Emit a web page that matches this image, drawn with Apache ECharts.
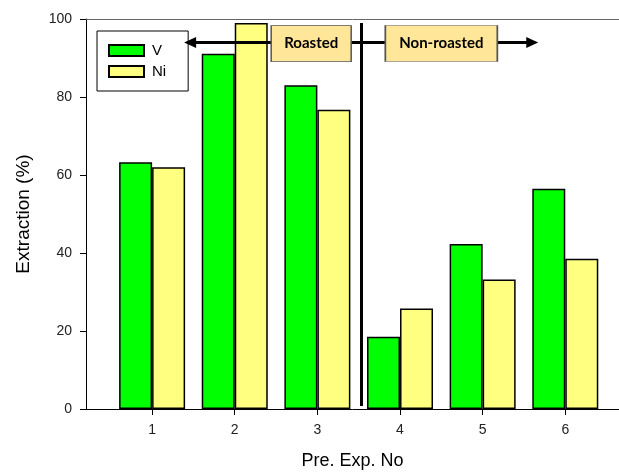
<!DOCTYPE html>
<html>
<head>
<meta charset="utf-8">
<script src="https://cdn.jsdelivr.net/npm/echarts@6/dist/echarts.min.js"></script>
<style>html,body{margin:0;padding:0;background:#fff;}#c{width:619px;height:475px;}</style>
</head>
<body>
<div id="c"></div>
<script>
var categories = [1, 2, 3, 4, 5, 6];
var vValues = [63.3, 91.1, 83.0, 18.5, 42.3, 56.5];
var niValues = [62.0, 99.0, 76.7, 25.8, 33.2, 38.5];
var yTicks = [0, 20, 40, 60, 80, 100];
var seriesNames = ['V', 'Ni'];
var groupLabels = ['Roasted', 'Non-roasted'];

function pairs(vals) { return categories.map(function (c, i) { return [c, vals[i]]; }); }

var chart = echarts.init(document.getElementById('c'), null, {renderer: 'canvas'});
var font = 'Liberation Sans, Arial, sans-serif';
chart.setOption({
  animation: false,
  backgroundColor: '#ffffff',
  grid: {left: 86, top: 19, right: 0, bottom: 61},
  legend: {
    orient: 'vertical', left: 97, top: 31,
    padding: [12, 22, 12, 11], itemGap: 6,
    itemWidth: 35, itemHeight: 11, icon: 'rect',
    borderColor: '#000', borderWidth: 1,
    textStyle: {fontFamily: font, fontSize: 15, color: '#000', padding: [0, 0, 0, 3]},
    data: seriesNames
  },
  xAxis: [{
    type: 'value', min: 0.2, max: 6.65, position: 'bottom',
    name: 'Pre. Exp. No', nameLocation: 'middle', nameGap: 43,
    nameTextStyle: {fontFamily: font, fontSize: 18, color: '#000'},
    axisLine: {show: true, lineStyle: {color: '#000', width: 1}},
    axisTick: {show: true, length: 6, lineStyle: {color: '#000'}, customValues: categories},
    axisLabel: {fontFamily: font, fontSize: 14, color: '#222', margin: 14, customValues: categories},
    splitLine: {show: false}
  }, {
    type: 'value', min: 0.2, max: 6.65, position: 'top',
    axisLine: {show: true, lineStyle: {color: '#666', width: 1}},
    axisTick: {show: false}, axisLabel: {show: false}, splitLine: {show: false}
  }],
  yAxis: {
    type: 'value', min: 0, max: 100, interval: 20,
    name: 'Extraction (%)', nameLocation: 'middle', nameGap: 53,
    nameTextStyle: {fontFamily: font, fontSize: 19, color: '#000'},
    axisLine: {show: true, lineStyle: {color: '#000', width: 1}},
    axisTick: {show: true, length: 6, lineStyle: {color: '#000'}},
    axisLabel: {fontFamily: font, fontSize: 14, color: '#222', margin: 14},
    splitLine: {show: false}
  },
  series: [{
    name: seriesNames[0], type: 'bar', data: pairs(vValues),
    barWidth: 33, barGap: '0%',
    itemStyle: {color: '#00ff00', borderColor: '#000', borderWidth: 1.5}
  }, {
    name: seriesNames[1], type: 'bar', data: pairs(niValues),
    barWidth: 33, barGap: '0%',
    itemStyle: {color: '#ffff80', borderColor: '#000', borderWidth: 1.5}
  }, {
    name: 'annot', type: 'line', data: [], z: 5,
    markLine: {
      silent: true,
      label: {show: false},
      data: [
        [{coord: [1.46, 94], symbol: 'triangle', symbolSize: [11, 12], lineStyle: {color: '#000', width: 3, type: 'solid'}},
         {coord: [5.6, 94], symbol: 'triangle', symbolSize: [11, 12]}],
        [{coord: [3.53, 0.75], symbol: 'none', lineStyle: {color: '#000', width: 3, type: 'solid'}},
         {coord: [3.53, 99], symbol: 'none'}]
      ]
    },
    markPoint: {
      silent: true,
      data: [
        {coord: [2.925, 93.7], symbol: 'rect', symbolSize: [80, 36], value: groupLabels[0],
         itemStyle: {color: '#ffe699', borderColor: '#555', borderWidth: 1}},
        {coord: [4.5, 93.7], symbol: 'rect', symbolSize: [112, 36], value: groupLabels[1],
         itemStyle: {color: '#ffe699', borderColor: '#555', borderWidth: 1}}
      ],
      label: {show: true, position: 'inside', formatter: '{c}', fontFamily: 'Lato, Open Sans, sans-serif', fontWeight: 'bold', fontSize: 15, color: '#000'}
    }
  }]
});
</script>
</body>
</html>
